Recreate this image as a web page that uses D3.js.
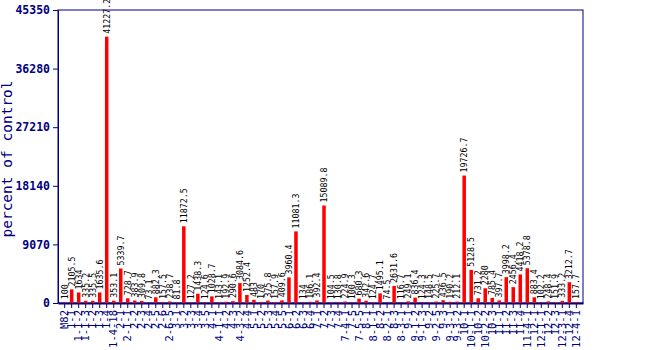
<!DOCTYPE html>
<html>
<head>
<meta charset="utf-8">
<script src="https://cdn.jsdelivr.net/npm/d3@7"></script>
<style>
  body { margin: 0; background: #fff; }
  svg { display: block; }
</style>
</head>
<body>
<svg class="chart-svg" width="650" height="350"></svg>
<script>
const lines = [
  "M82", "1-1", "1-1-2", "1-1-3", "1-2", "1-3", "1-4", "1-4-18",
  "2-1", "2-1-1", "2-2", "2-3", "2-4", "2-5", "2-6", "2-6-5",
  "3-1", "3-2", "3-3", "3-4", "3-5",
  "4-1", "4-1-1", "4-2", "4-3", "4-3-2", "4-4",
  "5-1", "5-2", "5-3", "5-4", "5-5",
  "6-1", "6-2", "6-3", "6-4",
  "7-1", "7-2", "7-3", "7-4", "7-4-1", "7-5", "7-5-5",
  "8-1", "8-1-1", "8-2", "8-2-1", "8-3", "8-3-1",
  "9-1", "9-1-2", "9-1-3", "9-2", "9-2-5", "9-3", "9-3-1", "9-3-2",
  "10-1", "10-1-1", "10-2", "10-2-2", "10-3",
  "11-1", "11-2", "11-3", "11-4", "11-4-1",
  "12-1", "12-1-1", "12-2", "12-3", "12-3-1", "12-4", "12-4-1"
];
const values = [
  100, 2105.5, 1634, 335.2, 335.5, 1635.6, 41227.2, 353.1,
  5339.7, 728.7, 383.9, 309.8, 73.1, 882.3, 157.5, 238.7,
  81.8, 11872.5, 127.2, 1438.3, 124.6,
  1028.7, 143.1, 192.9, 290.6, 3084.6, 1252.4,
  483, 170, 375.8, 157.9, 409.6,
  3960.4, 11081.3, 134, 186.1,
  392.4, 15089.8, 104.5, 130.8, 224.9, 100.3, 680.3,
  342.6, 124.7, 1495.1, 74.5, 2631.6, 116.7,
  249.1, 836.4, 124.3, 148.5, 225.7, 436.5, 190.2, 212.1,
  19726.7, 5128.5, 731.2, 2280, 785.4,
  397.7, 3998.2, 2456.4, 4418.2, 5378.8,
  883.4, 102.2, 248.4, 151.9, 333.2, 3212.7, 157.7
];
const yTicks = [0, 9070, 18140, 27210, 36280, 45350];
const yTitle = "percent of control";

const margin = { top: 10, right: 67, bottom: 47, left: 58 };
const svg = d3.select(".chart-svg");
const width = 650 - margin.left - margin.right;
const height = 350 - margin.top - margin.bottom;
const navy = "#000080";
const mono = "'DejaVu Sans Mono', monospace";

const data = lines.map((name, i) => ({ name, value: values[i] }));

const xScale = d3.scaleBand()
  .domain(lines)
  .range([0, width])
  .paddingInner(0.5)
  .paddingOuter(0.7);
const yScale = d3.scaleLinear().domain([0, 45350]).range([height, 0]);

const g = svg.append("g").attr("transform", `translate(${margin.left},${margin.top})`);

// frame
g.append("rect")
  .attr("x", 0).attr("y", 0)
  .attr("width", width).attr("height", height)
  .attr("fill", "none")
  .attr("stroke", navy)
  .attr("stroke-width", 1);

// y axis
const yAxis = g.append("g")
  .attr("class", "y-axis")
  .call(d3.axisLeft(yScale)
    .tickValues(yTicks)
    .tickFormat(d3.format("d"))
    .tickSize(5)
    .tickSizeOuter(0)
    .tickPadding(3));
yAxis.select(".domain").attr("stroke", navy);
yAxis.selectAll("line").attr("stroke", navy);
yAxis.selectAll("text")
  .attr("fill", navy)
  .style("font-family", mono)
  .style("font-size", "11.5px")
  .style("font-weight", "bold");

// x axis
const xAxis = g.append("g")
  .attr("class", "x-axis")
  .attr("transform", `translate(0,${height})`)
  .call(d3.axisBottom(xScale).tickSize(5).tickSizeOuter(0).tickPadding(2));
xAxis.select(".domain").attr("stroke", navy).attr("stroke-width", 2);
xAxis.selectAll("line").attr("stroke", navy);
xAxis.selectAll("text")
  .attr("fill", navy)
  .style("font-family", mono)
  .style("font-size", "10.5px")
  .style("text-anchor", "end")
  .attr("transform", "rotate(-90)")
  .attr("x", -7)
  .attr("y", 0)
  .attr("dy", "0.35em");

// bars
const bars = g.append("g").selectAll(".bar")
  .data(data, (d) => d.name)
  .join("g")
  .attr("class", "bar");

bars.append("rect")
  .attr("x", (d) => xScale(d.name))
  .attr("y", (d) => yScale(d.value))
  .attr("width", xScale.bandwidth())
  .attr("height", (d) => height - yScale(d.value))
  .attr("fill", "#ff0000");

bars.append("text")
  .attr("transform", (d) => {
    const cx = xScale(d.name) + xScale.bandwidth() / 2;
    return `translate(${cx},${yScale(d.value) - 3}) rotate(-90)`;
  })
  .attr("dy", "0.35em")
  .attr("fill", "#000")
  .style("font-family", mono)
  .style("font-size", "8.3px")
  .text((d) => d.value);

// y title
svg.append("text")
  .attr("transform", `translate(7,159) rotate(-90)`)
  .attr("text-anchor", "middle")
  .attr("dy", "0.35em")
  .attr("fill", navy)
  .style("font-family", mono)
  .style("font-size", "14.5px")
  .text(yTitle);
</script>
</body>
</html>
